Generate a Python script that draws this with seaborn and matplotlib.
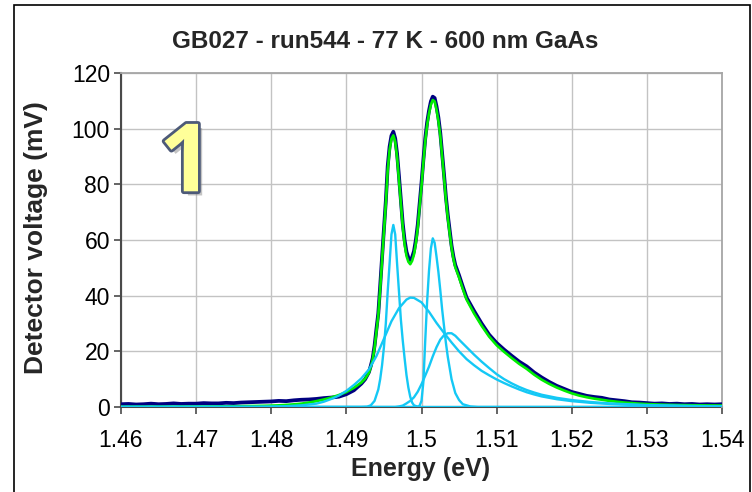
import matplotlib
matplotlib.use("Agg")
import matplotlib.pyplot as plt
import matplotlib.patheffects as pe
from matplotlib.patches import Rectangle
import seaborn as sns

# ---- measured photoluminescence spectrum ----
energy_meas = [
    1.460, 1.461, 1.462, 1.463, 1.464, 1.465, 1.466, 1.467, 1.468, 1.469,
    1.470, 1.471, 1.472, 1.473, 1.474, 1.475, 1.476, 1.477, 1.478, 1.479,
    1.480, 1.481, 1.482, 1.483, 1.484, 1.485, 1.486, 1.487, 1.488, 1.489,
    1.490, 1.491, 1.492, 1.4925, 1.4930, 1.49325, 1.4935, 1.49375, 1.4940, 1.49425,
    1.4945, 1.49475, 1.4950, 1.49525, 1.4955, 1.49575, 1.4960, 1.49625, 1.4965, 1.49675,
    1.4970, 1.49725, 1.4975, 1.49775, 1.4980, 1.49825, 1.4985, 1.49875, 1.4990, 1.49925,
    1.4995, 1.49975, 1.5000, 1.50025, 1.5005, 1.50075, 1.5010, 1.50125, 1.5015, 1.50175,
    1.5020, 1.50225, 1.5025, 1.50275, 1.5030, 1.50325, 1.5035, 1.50375, 1.5040, 1.50425,
    1.5045, 1.5050, 1.5055, 1.5060, 1.5070, 1.5080, 1.5090, 1.5100, 1.5110, 1.5120,
    1.5130, 1.5140, 1.5150, 1.5160, 1.5170, 1.5180, 1.5190, 1.5200, 1.5210, 1.5220,
    1.5230, 1.5240, 1.5250, 1.5260, 1.5270, 1.5280, 1.5290, 1.5300, 1.5310, 1.5320,
    1.5330, 1.5340, 1.5350, 1.5360, 1.5370, 1.5380, 1.5390, 1.5400,
]
voltage_meas = [
    1.0, 1.1, 0.9, 1.0, 1.2, 1.0, 1.1, 1.3, 1.1, 1.2,
    1.2, 1.4, 1.3, 1.3, 1.5, 1.4, 1.6, 1.7, 1.8, 1.9,
    2.0, 2.2, 2.1, 2.4, 2.6, 2.7, 2.9, 3.2, 3.4, 3.7,
    4.6, 6.0, 8.4, 10.0, 12.5, 14.8, 17.5, 22.0, 28.0, 33.7,
    43.5, 53.8, 64.0, 74.0, 86.5, 93.5, 97.5, 98.9, 96.5, 91.0,
    83.0, 74.5, 66.0, 60.0, 55.8, 53.6, 52.8, 53.8, 56.0, 60.0,
    65.5, 73.0, 80.5, 88.8, 96.5, 102.3, 106.5, 109.8, 111.5, 111.0,
    108.0, 104.0, 98.5, 91.0, 83.5, 75.5, 69.0, 63.5, 58.0, 54.0,
    51.0, 47.3, 43.2, 39.3, 34.5, 30.0, 26.0, 23.0, 20.6, 18.4,
    16.3, 14.6, 12.4, 10.6, 9.0, 7.6, 6.5, 5.4, 4.7, 4.0,
    3.6, 3.3, 2.7, 2.4, 2.1, 1.7, 1.6, 1.4, 1.2, 1.3,
    1.1, 1.2, 1.0, 1.1, 0.9, 1.0, 0.9, 1.0,
]

# ---- total fit, evaluated on the same energies ----
voltage_fit = [
    0.10, 0.10, 0.11, 0.11, 0.12, 0.12, 0.13, 0.14, 0.15, 0.16,
    0.17, 0.18, 0.20, 0.22, 0.24, 0.27, 0.30, 0.34, 0.38, 0.43,
    0.50, 0.60, 0.75, 0.95, 1.2, 1.6, 2.1, 2.7, 3.4, 4.3,
    5.4, 6.9, 8.8, 10.2, 12.3, 14.4, 17.0, 21.2, 27.0, 33.0,
    42.5, 52.8, 63.0, 73.0, 85.0, 92.3, 96.3, 97.6, 95.3, 89.8,
    81.5, 73.3, 64.8, 58.5, 54.3, 52.2, 51.3, 52.5, 54.8, 58.8,
    64.3, 72.0, 79.5, 87.8, 95.5, 101.3, 105.5, 108.6, 110.3, 109.8,
    106.8, 102.8, 97.5, 90.0, 82.5, 74.5, 68.0, 62.5, 57.2, 53.2,
    50.2, 46.5, 42.4, 38.6, 33.6, 29.2, 25.3, 22.2, 19.8, 17.6,
    15.5, 13.7, 11.6, 9.8, 8.3, 7.0, 5.9, 4.9, 4.1, 3.5,
    3.0, 2.6, 2.2, 1.9, 1.6, 1.4, 1.2, 1.05, 0.95, 0.85,
    0.78, 0.72, 0.67, 0.63, 0.60, 0.57, 0.55, 0.53,
]

# ---- fit components ----
energy_peak1 = [1.460, 1.4920, 1.49275, 1.49325, 1.49375, 1.49425, 1.4945, 1.49475,
                1.4950, 1.49525, 1.4955, 1.49575, 1.4960, 1.49625, 1.4965, 1.49675,
                1.4970, 1.49725, 1.4975, 1.49775, 1.4980, 1.49825, 1.4985, 1.49875,
                1.4990, 1.4995, 1.5000, 1.540]
voltage_peak1 = [0, 0, 0.1, 0.6, 2.2, 6.3, 10.0, 15.0,
                 21.5, 30.0, 41.5, 51.5, 62.0, 65.4, 62.0, 51.5,
                 41.5, 31.5, 24.0, 17.5, 11.5, 7.0, 3.7, 1.6,
                 0.6, 0.1, 0, 0]

energy_peak2 = [1.460, 1.4990, 1.4995, 1.49975, 1.5000, 1.50025, 1.5005, 1.50075,
                1.5010, 1.50125, 1.5015, 1.50175, 1.5020, 1.50225, 1.5025, 1.50275,
                1.5030, 1.50325, 1.5035, 1.5040, 1.5045, 1.5050, 1.5055, 1.5065,
                1.5075, 1.540]
voltage_peak2 = [0, 0, 0.1, 0.5, 2.2, 9.0, 24.0, 38.0,
                 49.0, 57.0, 60.6, 59.0, 54.0, 48.5, 42.0, 35.0,
                 29.0, 23.0, 18.0, 10.0, 5.0, 2.5, 1.0, 0.2,
                 0, 0]

energy_broad = [1.460, 1.478, 1.480, 1.482, 1.484, 1.486, 1.487, 1.488, 1.489, 1.490,
                1.491, 1.492, 1.493, 1.494, 1.495, 1.496, 1.497, 1.498, 1.4985, 1.499,
                1.500, 1.501, 1.502, 1.503, 1.504, 1.505, 1.506, 1.507, 1.508, 1.509,
                1.510, 1.511, 1.512, 1.513, 1.514, 1.515, 1.516, 1.518, 1.520, 1.5225,
                1.525, 1.5275, 1.530, 1.535, 1.540]
voltage_broad = [0, 0.05, 0.15, 0.3, 0.6, 1.2, 1.9, 2.9, 4.1, 5.8,
                 7.9, 10.3, 13.5, 18.3, 24.5, 30.8, 35.5, 38.6, 39.3, 39.2,
                 37.6, 34.2, 30.2, 26.6, 23.2, 20.0, 17.2, 15.0, 13.0, 11.4,
                 9.9, 8.6, 7.4, 6.3, 5.3, 4.5, 3.8, 2.8, 2.1, 1.5,
                 1.1, 0.8, 0.6, 0.35, 0.2]

energy_high = [1.460, 1.4965, 1.4970, 1.4975, 1.4980, 1.4985, 1.4990, 1.4995, 1.5000, 1.5005,
               1.5010, 1.5015, 1.5020, 1.5025, 1.5030, 1.5035, 1.5040, 1.5045, 1.5050, 1.5060,
               1.5070, 1.5080, 1.5090, 1.5100, 1.5110, 1.5120, 1.5130, 1.5140, 1.5150, 1.5160,
               1.5180, 1.5200, 1.5225, 1.5250, 1.5275, 1.5300, 1.5350, 1.5400]
voltage_high = [0, 0, 0.2, 0.5, 1.3, 2.2, 3.5, 5.5, 8.2, 11.3,
                14.5, 18.2, 21.5, 24.2, 25.8, 26.5, 26.5, 25.6, 24.2, 21.5,
                18.8, 16.3, 14.0, 11.8, 10.0, 8.5, 7.2, 6.1, 5.2, 4.4,
                3.3, 2.5, 1.8, 1.3, 1.0, 0.7, 0.4, 0.25]

x_ticks = [1.46, 1.47, 1.48, 1.49, 1.50, 1.51, 1.52, 1.53, 1.54]
x_tick_labels = ["1.46", "1.47", "1.48", "1.49", "1.5", "1.51", "1.52", "1.53", "1.54"]
y_ticks = [0, 20, 40, 60, 80, 100, 120]

title = "GB027 - run544 - 77 K - 600 nm GaAs"
x_label = "Energy (eV)"
y_label = "Detector voltage (mV)"
panel_label = "1"

# ---- styling ----
sns.set_theme(style="white")
plt.rcParams["font.family"] = ["Liberation Sans", "DejaVu Sans"]

W, H = 752, 492
fig = plt.figure(figsize=(W / 100, H / 100), dpi=100)
fig.patch.set_facecolor("white")

# chart border
fig.add_artist(Rectangle((14 / W, -0.02), (750 - 14) / W, (H - 5) / H + 0.02,
                         transform=fig.transFigure, fill=False,
                         edgecolor="black", linewidth=1.2))

ax = fig.add_axes([121 / W, (H - 407) / H, 601 / W, 334 / H])
ax.set_facecolor("white")

navy = "#000080"
green = "#00ee00"
cyan = "#14c8f5"

sns.lineplot(x=energy_meas, y=voltage_meas, ax=ax, color=navy, linewidth=2.7,
             estimator=None, sort=False, zorder=3)
sns.lineplot(x=energy_meas, y=voltage_fit, ax=ax, color=green, linewidth=1.9,
             estimator=None, sort=False, zorder=4)
for ex, vy in [(energy_peak1, voltage_peak1), (energy_peak2, voltage_peak2),
               (energy_broad, voltage_broad), (energy_high, voltage_high)]:
    sns.lineplot(x=ex, y=vy, ax=ax, color=cyan, linewidth=1.7,
                 estimator=None, sort=False, zorder=5)

ax.set_xlim(1.46, 1.54)
ax.set_ylim(0, 120)
ax.set_xticks(x_ticks)
ax.set_xticklabels(x_tick_labels)
ax.set_yticks(y_ticks)

ax.grid(True, color="#c3c3c3", linewidth=1.0)
ax.set_axisbelow(True)

for side in ["top", "right"]:
    ax.spines[side].set_color("#a6a6a6")
    ax.spines[side].set_linewidth(1.3)
for side in ["left", "bottom"]:
    ax.spines[side].set_color("#4a4a4a")
    ax.spines[side].set_linewidth(1.5)
    ax.spines[side].set_zorder(2)

ax.tick_params(axis="both", which="major", direction="out", color="#4a4a4a",
               width=1.2, labelsize=16.5, labelcolor="black")
ax.tick_params(axis="x", length=5, pad=11, bottom=True)
ax.tick_params(axis="y", length=5, pad=3, left=True)

ax.set_xlabel("")
ax.set_ylabel("")

fig.text(385 / W, 1 - 41 / H, title, ha="center", va="center",
         fontsize=17.5, fontweight="bold")
fig.text(421 / W, 1 - 469 / H, x_label, ha="center", va="center",
         fontsize=18, fontweight="bold")
fig.text(36 / W, 1 - 238 / H, y_label, ha="center", va="center",
         rotation=90, fontsize=19, fontweight="bold")

ax.text(1.46865, 77.5, panel_label, ha="center", va="baseline",
        fontsize=68, fontweight="bold", family=["Open Sans", "DejaVu Sans"],
        color="#ffff99", zorder=6,
        path_effects=[pe.SimplePatchShadow(offset=(3, -3), shadow_rgbFace="#8a8a8a", alpha=0.5),
                      pe.Stroke(linewidth=4, foreground="#4d5a78"),
                      pe.Normal()])

fig.savefig("out.png", dpi=100, facecolor="white")
